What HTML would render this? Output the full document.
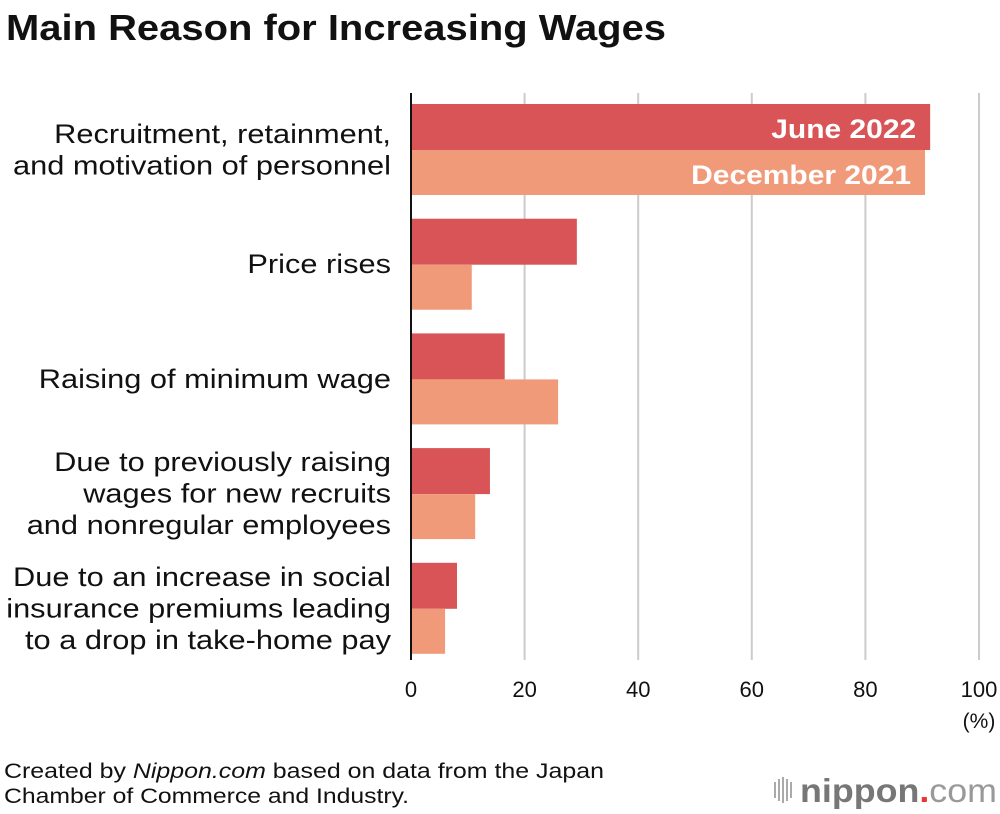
<!DOCTYPE html>
<html><head><meta charset="utf-8"><style>
body{margin:0;background:#fff;}
svg{display:block;font-family:"Liberation Sans",sans-serif;}
</style></head><body>
<svg width="1000" height="814" viewBox="0 0 1000 814">
<text x="6" y="40" font-size="36" font-weight="bold" fill="#111" textLength="660" lengthAdjust="spacingAndGlyphs">Main Reason for Increasing Wages</text>
<g id="grid"></g>
<g id="bars"></g>
<g id="labels"></g>
<line x1="411" y1="93" x2="411" y2="660" stroke="#111" stroke-width="2"/>
<g id="ticks"></g>
<text x="979" y="728" font-size="21" text-anchor="middle" fill="#111">(%)</text>
<text x="4" y="778" font-size="21" fill="#111" textLength="600" lengthAdjust="spacingAndGlyphs">Created by <tspan font-style="italic">Nippon.com</tspan> based on data from the Japan</text>
<text x="4" y="803" font-size="21" fill="#111" textLength="405" lengthAdjust="spacingAndGlyphs">Chamber of Commerce and Industry.</text>
<g>
<g fill="#aaa"><rect x="774" y="782" width="2" height="16"/><rect x="778" y="779" width="2" height="22"/><rect x="782" y="777" width="2" height="26"/><rect x="786" y="779" width="2" height="22"/><rect x="790" y="782" width="2" height="16"/></g>
<text x="800" y="802" font-size="33" font-weight="bold" fill="#777" textLength="197" lengthAdjust="spacingAndGlyphs">nippon<tspan fill="#e33">.</tspan><tspan font-weight="normal" fill="#999">com</tspan></text>
</g>
</svg>
<script>
const categories=[["Recruitment, retainment,","and motivation of personnel"],["Price rises"],["Raising of minimum wage"],["Due to previously raising","wages for new recruits","and nonregular employees"],["Due to an increase in social","insurance premiums leading","to a drop in take-home pay"]];
const june2022=[91.4,29.2,16.5,13.9,8.1];
const dec2021=[90.5,10.7,25.9,11.3,6.0];
const ticks=[0,20,40,60,80,100];
const NS="http://www.w3.org/2000/svg";
const x=v=>411+v*5.68;
const gTop=i=>104+i*114.7;
function mk(p,tag,at){const e=document.createElementNS(NS,tag);for(const k in at)e.setAttribute(k,at[k]);document.getElementById(p).appendChild(e);return e;}
ticks.forEach((t,i)=>{
 if(t>0){const l=mk('grid','line',{x1:x(t),x2:x(t),y1:93,y2:660,stroke:'#ccc','stroke-width':2});
 
 }
 const tx=mk('ticks','text',{x:x(t),y:697,'font-size':22,'text-anchor':'middle',fill:'#111'});tx.textContent=t;
 
 
});
categories.forEach((c,i)=>{
 const y=gTop(i);
 const a=mk('bars','rect',{x:411,y:y,width:x(june2022[i])-411,height:46,fill:'#d95457'});
 
 
 const b=mk('bars','rect',{x:411,y:y+46,width:x(dec2021[i])-411,height:45,fill:'#f09a7a'});
 
 
 const mid=y+45.5, n=c.length;
 c.forEach((ln,j)=>{const t=mk('labels','text',{x:0,y:0,transform:'translate(391,'+(mid+9+(j-(n-1)/2)*31.5)+') scale(1.14,1)','font-size':27,'text-anchor':'end',fill:'#111'});t.textContent=ln;
 
 });
 if(i===0){
  const l1=mk('labels','text',{x:0,y:0,transform:'translate('+(x(june2022[0])-14)+','+(y+34)+') scale(1.11,1)','font-size':27,'font-weight':'bold','text-anchor':'end',fill:'#fff'});l1.textContent='June 2022';
  
  
  const l2=mk('labels','text',{x:0,y:0,transform:'translate('+(x(dec2021[0])-14)+','+(y+80)+') scale(1.11,1)','font-size':27,'font-weight':'bold','text-anchor':'end',fill:'#fff'});l2.textContent='December 2021';
  
  
 }
});
</script>
</body></html>
